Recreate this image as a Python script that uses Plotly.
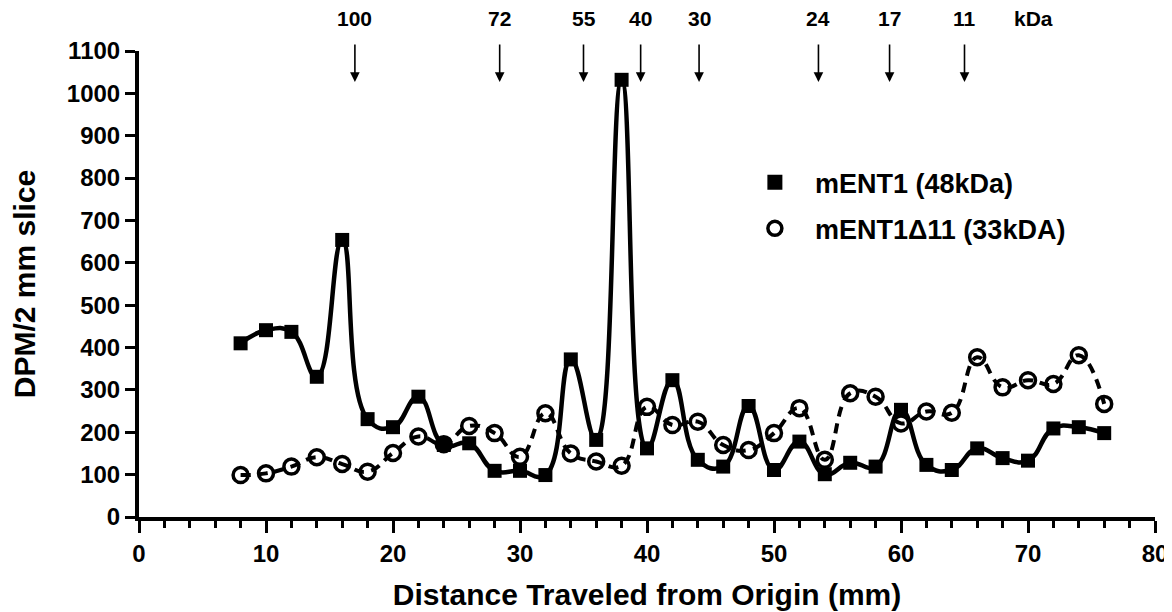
import plotly.graph_objects as go

# ---- data ----
distance_mm = [8, 10, 12, 14, 16, 18, 20, 22, 24, 26, 28, 30, 32, 34, 36, 38, 40, 42,
               44, 46, 48, 50, 52, 54, 56, 58, 60, 62, 64, 66, 68, 70, 72, 74, 76]
ment1 = [410, 441, 437, 331, 654, 231, 212, 284, 170, 174, 109, 109, 99, 372, 182, 1032,
         162, 323, 135, 119, 262, 111, 178, 101, 128, 119, 253, 123, 111, 162, 139, 133,
         209, 212, 198]
ment1_d11 = [99, 103, 119, 141, 125, 107, 151, 190, 172, 215, 198, 142, 245, 150, 131, 121,
             260, 217, 225, 170, 158, 198, 257, 135, 292, 284, 221, 249, 246, 377, 306, 323,
             314, 382, 267]
marker_labels = ["100", "72", "55", "40", "30", "24", "17", "11"]
marker_positions = [17.0, 28.4, 35.0, 39.5, 44.1, 53.5, 59.1, 65.0]
series_names = ["mENT1 (48kDa)", "mENT1\u039411 (33kDA)"]

FONT = "Arial, Liberation Sans, sans-serif"

fig = go.Figure()

# data traces (lines + markers, not in legend)
fig.add_trace(go.Scatter(
    x=distance_mm, y=ment1, mode="lines+markers", showlegend=False,
    line=dict(color="black", width=4.5, shape="spline", smoothing=1.3),
    marker=dict(symbol="square", size=14, color="black"),
    cliponaxis=False))
fig.add_trace(go.Scatter(
    x=distance_mm, y=ment1_d11, mode="lines+markers", showlegend=False,
    line=dict(color="black", width=4, shape="spline", smoothing=1.3, dash="10px,7px"),
    marker=dict(symbol="circle-open", size=15, color="black", line=dict(width=3.5)),
    cliponaxis=False))

# legend-only entries (marker only)
fig.add_trace(go.Scatter(
    x=[None], y=[None], mode="markers", name=series_names[0], legendgroup="a",
    marker=dict(symbol="square", size=15, color="black")))
fig.add_trace(go.Scatter(
    x=[None], y=[None], mode="markers", name=series_names[1], legendgroup="b",
    marker=dict(symbol="circle-open", size=14, color="black", line=dict(width=3.5))))

annotations = []
for lab, pos in zip(marker_labels, marker_positions):
    annotations.append(dict(
        x=pos, y=1027, xref="x", yref="y", text="", showarrow=True,
        ax=0, ay=-38, axref="pixel", ayref="pixel", font=dict(size=1), borderpad=0,
        arrowhead=2, arrowsize=1.2, arrowwidth=1.6, arrowcolor="black"))
    annotations.append(dict(
        x=pos, y=1.0708, xref="x", yref="paper", yanchor="middle", text=lab, showarrow=False,
        font=dict(family=FONT, size=21, color="black", weight="bold")))
annotations.append(dict(
    x=70.4, y=1.0708, xref="x", yref="paper", yanchor="middle", text="kDa", showarrow=False,
    font=dict(family=FONT, size=21, color="black", weight="bold")))

fig.update_layout(
    width=1172, height=612,
    margin=dict(l=129, r=25, t=43, b=103),
    paper_bgcolor="white", plot_bgcolor="white",
    font=dict(family=FONT, color="black", weight="bold"),
    annotations=annotations,
    legend=dict(x=0.5865, y=0.770, xanchor="left", yanchor="top",
                font=dict(family=FONT, size=27, color="black", weight="bold"),
                tracegroupgap=8, itemwidth=70, bgcolor="rgba(0,0,0,0)"),
    xaxis=dict(
        range=[0, 80], showgrid=False, zeroline=False,
        showline=True, linewidth=4, linecolor="black",
        ticks="outside", tickwidth=3, ticklen=12, tickcolor="black",
        tickmode="linear", tick0=0, dtick=10,
        minor=dict(ticks="outside", tickwidth=3, ticklen=7, dtick=2, tick0=0, tickcolor="black"),
        tickfont=dict(family=FONT, size=24, color="black", weight="bold"),
        title=dict(text="Distance Traveled from Origin (mm)", standoff=19,
                   font=dict(family=FONT, size=30, color="black", weight="bold")),
    ),
    yaxis=dict(
        range=[0, 1100], showgrid=False, zeroline=False,
        showline=True, linewidth=4, linecolor="black",
        ticks="outside", tickwidth=3, ticklen=10, tickcolor="black",
        tickmode="linear", tick0=0, dtick=100,
        tickfont=dict(family=FONT, size=24, color="black", weight="bold"),
        title=dict(text="DPM/2 mm slice", standoff=26,
                   font=dict(family=FONT, size=30, color="black", weight="bold")),
    ),
)

fig.write_html("out.html")
